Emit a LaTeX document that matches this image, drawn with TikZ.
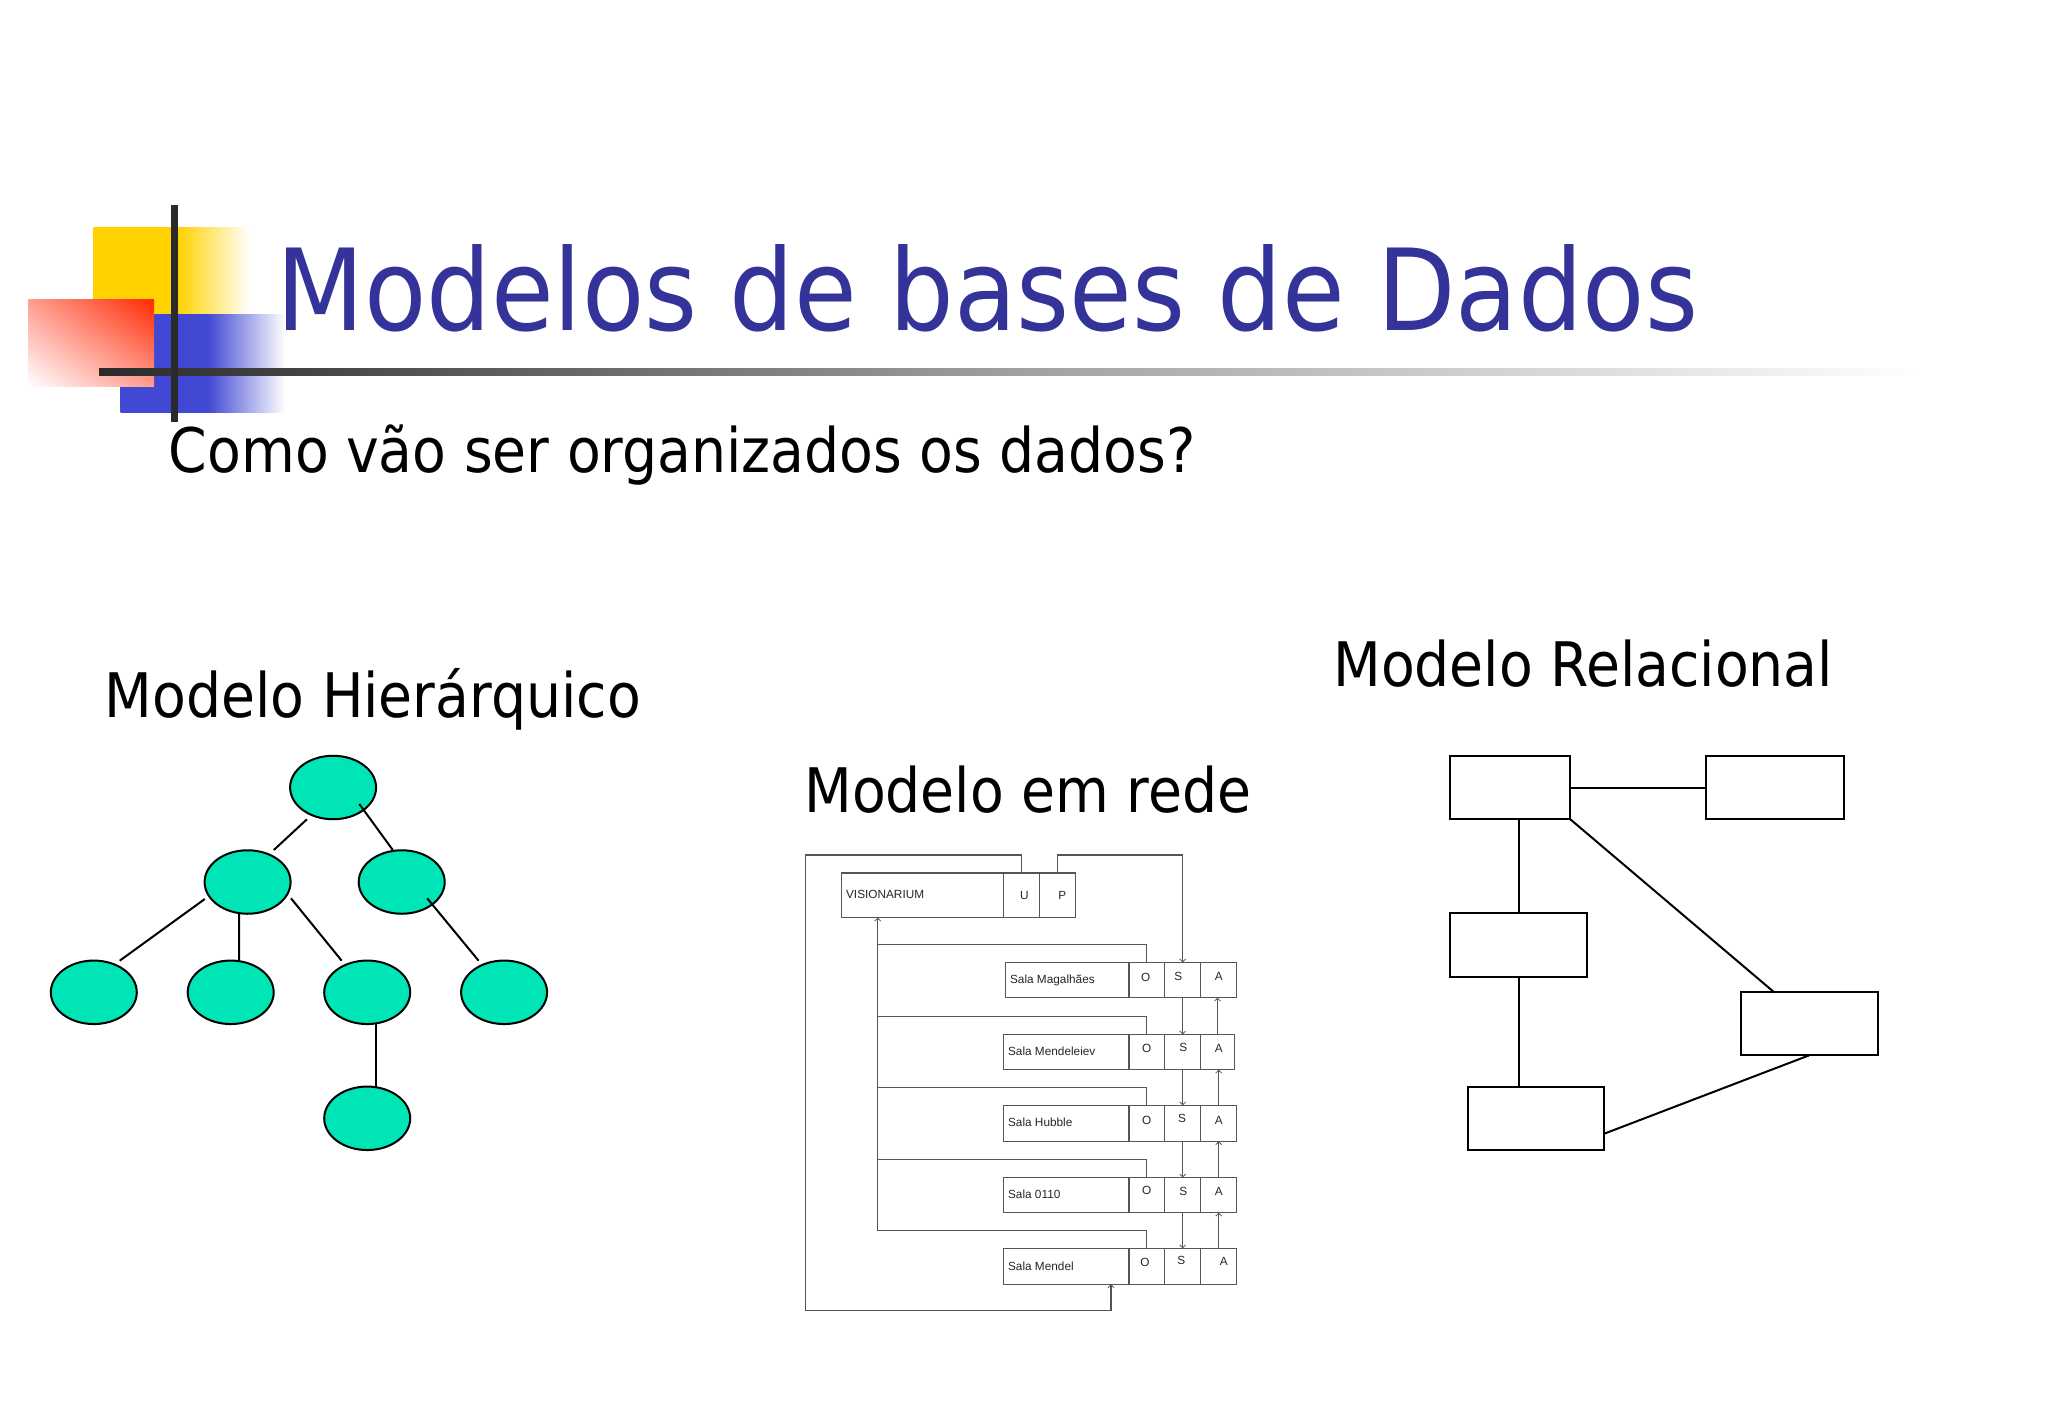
\documentclass[tikz,border=0pt]{standalone}
\usepackage{fontspec}
\usetikzlibrary{arrows.meta,shapes.geometric,shadings}
\setmainfont{DejaVu Sans Condensed}
\newfontfamily\netfont{Liberation Sans}
\definecolor{titleblue}{HTML}{333399}
\definecolor{logoyellow}{HTML}{FFD200}
\definecolor{logoblue}{HTML}{4048D4}
\definecolor{logored}{HTML}{FF2A00}
\definecolor{logopink}{HTML}{FF9C90}
\definecolor{logobar}{HTML}{2A2A2A}
\definecolor{teal}{HTML}{00E5B6}
\definecolor{netgray}{HTML}{555555}
\pgfdeclarehorizontalshading{yellowfade}{100bp}{color(0bp)=(logoyellow); color(52bp)=(logoyellow); color(75bp)=(white); color(100bp)=(white)}
\pgfdeclarehorizontalshading{bluefade}{100bp}{color(0bp)=(logoblue); color(51.3bp)=(logoblue); color(75bp)=(white); color(100bp)=(white)}
\tikzset{
  titletext/.style={anchor=base west,inner sep=0,text=titleblue,font=\fontsize{56.6}{60}\selectfont},
  subtext/.style={anchor=base west,inner sep=0,text=black,font=\fontsize{30.7}{36}\selectfont},
  treenode/.style={ellipse,draw=black,line width=1pt,fill=teal,minimum width=43pt,minimum height=31.75pt,inner sep=0,outer sep=0},
  treeline/.style={draw=black,line width=1pt},
  relbox/.style={rectangle,draw=black,line width=1pt,fill=white,inner sep=0,outer sep=0},
  relline/.style={draw=black,line width=1pt},
  netbox/.style={rectangle,draw=netgray,line width=.6pt,fill=white,inner sep=0,outer sep=0},
  netline/.style={draw=netgray,line width=.6pt},
  netarrow/.style={netline,-{Straight Barb[length=1.4pt,width=3pt,line width=.4pt]}},
  nettext/.style={inner sep=0,text=black!85,font=\netfont\fontsize{5.9}{7}\selectfont},
}
\newcommand\netcell[5]{%
  \pgfmathsetmacro\cw{(#4-#2)*0.5}\pgfmathsetmacro\ch{(#5-#3)*0.5}%
  \pgfmathsetmacro\cx{(#4+#2)/2}\pgfmathsetmacro\cy{(#5+#3)/2}%
  \node[netbox,minimum width=\cw pt,minimum height=\ch pt] (#1) at (\cx,\cy) {};}
\newcommand\relcell[5]{%
  \pgfmathsetmacro\cw{(#4-#2)*0.5}\pgfmathsetmacro\ch{(#5-#3)*0.5}%
  \pgfmathsetmacro\cx{(#4+#2)/2}\pgfmathsetmacro\cy{(#5+#3)/2}%
  \node[relbox,minimum width=\cw pt,minimum height=\ch pt] (#1) at (\cx,\cy) {};}
\begin{document}
\begin{tikzpicture}[x=0.5pt,y=-0.5pt]
\useasboundingbox (0,0) rectangle (2048,1418);
\fill[white] (0,0) rectangle (2048,1418);
% logo
\shade[shading=yellowfade] (93.3,227) rectangle (250,314.7);
\shade[shading=bluefade] (120.7,314.7) rectangle (285,412.3);
\shade[upper right=logored,lower left=white,upper left=logopink,lower right=logopink] (28.3,299) rectangle (154,386.7);
\shade[left color=logobar,right color=white,middle color=logobar!45] (99,368.3) rectangle (1920,375);
\fill[logobar] (170.7,204.7) rectangle (178,422.3);
% text
\node[titletext] (title) at (276,330.5) {Modelos de bases de Dados};
\node[subtext] (question) at (168.5,472.5) {Como vão ser organizados os dados?};
\node[subtext] (hier) at (104.5,717.5) {Modelo Hierárquico};
\node[subtext] (rede) at (804,812) {Modelo em rede};
\node[subtext] (rel) at (1333,686) {Modelo Relacional};
% tree
\node[treenode] (root) at (333.1,787.5) {};
\node[treenode] (n1) at (247.6,882) {};
\node[treenode] (n2) at (401.7,882) {};
\node[treenode] (l1) at (93.8,992.3) {};
\node[treenode] (l2) at (230.7,992.3) {};
\node[treenode] (l3) at (367.2,992.3) {};
\node[treenode] (l4) at (504.1,992.3) {};
\node[treenode] (bot) at (367.2,1118.3) {};
\draw[treeline] ([shift={(-26.2,31.8)}]root.center) -- ([shift={(26.2,-32)}]n1.center);
\draw[treeline] ([shift={(26.2,16.5)}]root.center) -- ([shift={(-8.9,-32)}]n2.center);
\draw[treeline] ([shift={(-42.8,17)}]n1.center) -- ([shift={(25.9,-31.6)}]l1.center);
\draw[treeline] ([shift={(-8.6,31.3)}]n1.center) -- ([shift={(8.3,-31.6)}]l2.center);
\draw[treeline] ([shift={(43.4,16.3)}]n1.center) -- ([shift={(-25.5,-31.6)}]l3.center);
\draw[treeline] ([shift={(25.5,16.3)}]n2.center) -- ([shift={(-25.5,-31.6)}]l4.center);
\draw[treeline] ([shift={(8.7,31.7)}]l3.center) -- ([shift={(8.7,-31.6)}]bot.center);
% relational
\relcell{r1}{1450.3}{755.7}{1570.3}{819.3}
\relcell{r2}{1706.3}{755.7}{1843.7}{819.3}
\relcell{r3}{1450.3}{913.3}{1587.3}{976.7}
\relcell{r4}{1740.7}{992.3}{1877.7}{1055.3}
\relcell{r5}{1467.7}{1086.7}{1604.3}{1150}
\draw[relline] (r1.east) -- (r2.west);
\draw[relline] (r3.north) -- (r3.north |- r1.south);
\draw[relline] (r3.south) -- (r3.south |- r5.north);
\draw[relline] (r1.south east) -- ([shift={(-35,0)}]r4.north);
\draw[relline] (r4.south) -- ([shift={(0,15.3)}]r5.east);
% network
\netcell{vis}{841.7}{873}{1003.3}{917.7}
\netcell{visU}{1003.3}{873}{1039.3}{917.7}
\netcell{visP}{1039.3}{873}{1075.3}{917.7}
\node[nettext,anchor=west] (tvis) at (845.7,894.7) {VISIONARIUM};
\node[nettext] (tU) at (1024.3,895) {U};
\node[nettext] (tP) at (1062.3,895) {P};
% rooms
\netcell{a}{1005.7}{962.3}{1129}{997.7}
\netcell{aO}{1129}{962.3}{1164.7}{997.7}
\netcell{aS}{1164.7}{962.3}{1200.7}{997.7}
\netcell{aA}{1200.7}{962.3}{1236.7}{997.7}
\node[nettext,anchor=west] (ta) at (1009.7,980) {Sala Magalhães};
\node[nettext] (taO) at (1145.7,977.3) {O};
\node[nettext] (taS) at (1178.3,976.7) {S};
\node[nettext] (taA) at (1218.7,976.7) {A};
\netcell{b}{1003.3}{1034.3}{1129}{1069.7}
\netcell{bO}{1129}{1034.3}{1164.7}{1069.7}
\netcell{bS}{1164.7}{1034.3}{1200.7}{1069.7}
\netcell{bA}{1200.7}{1034.3}{1234.3}{1069.7}
\node[nettext,anchor=west] (tb) at (1007.7,1051.7) {Sala Mendeleiev};
\node[nettext] (tbO) at (1146.7,1048) {O};
\node[nettext] (tbS) at (1183.3,1047.3) {S};
\node[nettext] (tbA) at (1218.7,1048.7) {A};
\netcell{c}{1003.3}{1105.3}{1129}{1141.3}
\netcell{cO}{1129}{1105.3}{1164.7}{1141.3}
\netcell{cS}{1164.7}{1105.3}{1200.7}{1141.3}
\netcell{cA}{1200.7}{1105.3}{1236.7}{1141.3}
\node[nettext,anchor=west] (tc) at (1007.7,1122.7) {Sala Hubble};
\node[nettext] (tcO) at (1146.7,1120) {O};
\node[nettext] (tcS) at (1182,1118.7) {S};
\node[nettext] (tcA) at (1218.7,1120) {A};
\netcell{d}{1003.3}{1177.4}{1129}{1212.7}
\netcell{dO}{1129}{1177.4}{1164.7}{1212.7}
\netcell{dS}{1164.7}{1177.4}{1200.7}{1212.7}
\netcell{dA}{1200.7}{1177.4}{1236.7}{1212.7}
\node[nettext,anchor=west] (td) at (1007.7,1194.3) {Sala 0110};
\node[nettext] (tdO) at (1146.7,1190.3) {O};
\node[nettext] (tdS) at (1183.3,1191) {S};
\node[nettext] (tdA) at (1218.7,1191) {A};
\netcell{e}{1003.3}{1248.3}{1129}{1284.3}
\netcell{eO}{1129}{1248.3}{1164.7}{1284.3}
\netcell{eS}{1164.7}{1248.3}{1200.7}{1284.3}
\netcell{eA}{1200.7}{1248.3}{1236.7}{1284.3}
\node[nettext,anchor=west] (te) at (1007.7,1266) {Sala Mendel};
\node[nettext] (teO) at (1145,1262.7) {O};
\node[nettext] (teS) at (1181.3,1260) {S};
\node[nettext] (teA) at (1223.7,1261.7) {A};
% network connectors
\coordinate (b1) at (877.7,944.7);
\coordinate (b2) at (877.7,1016.4);
\coordinate (b3) at (877.7,1087.7);
\coordinate (b4) at (877.7,1159.4);
\coordinate (b5) at (877.7,1230.7);
\coordinate (topL) at (805.7,855);
\coordinate (botL) at (805.7,1310.7);
\coordinate (botR) at (1111,1310.7);
\coordinate (topR) at (1182.7,855);
\draw[netarrow] (b5) -- (b5 |- vis.south);
\draw[netline] (aO.north) |- (b1);
\draw[netline] (bO.north) |- (b2);
\draw[netline] (cO.north) |- (b3);
\draw[netline] (dO.north) |- (b4);
\draw[netline] (eO.north) |- (b5);
\draw[netarrow] (visU.north) |- (topL) -- (botL) -- (botR) -- (botR |- e.south);
\draw[netarrow] (visP.north) |- (topR) -- (aS.north);
\draw[netarrow] (aS.south) -- (bS.north);
\draw[netarrow] (bS.south) -- (cS.north);
\draw[netarrow] (cS.south) -- (dS.north);
\draw[netarrow] (dS.south) -- (eS.north);
\draw[netarrow] (bA.north) -- (bA.north |- aA.south);
\draw[netarrow] (cA.north) -- (cA.north |- bA.south);
\draw[netarrow] (dA.north) -- (dA.north |- cA.south);
\draw[netarrow] (eA.north) -- (eA.north |- dA.south);
\end{tikzpicture}
\end{document}
